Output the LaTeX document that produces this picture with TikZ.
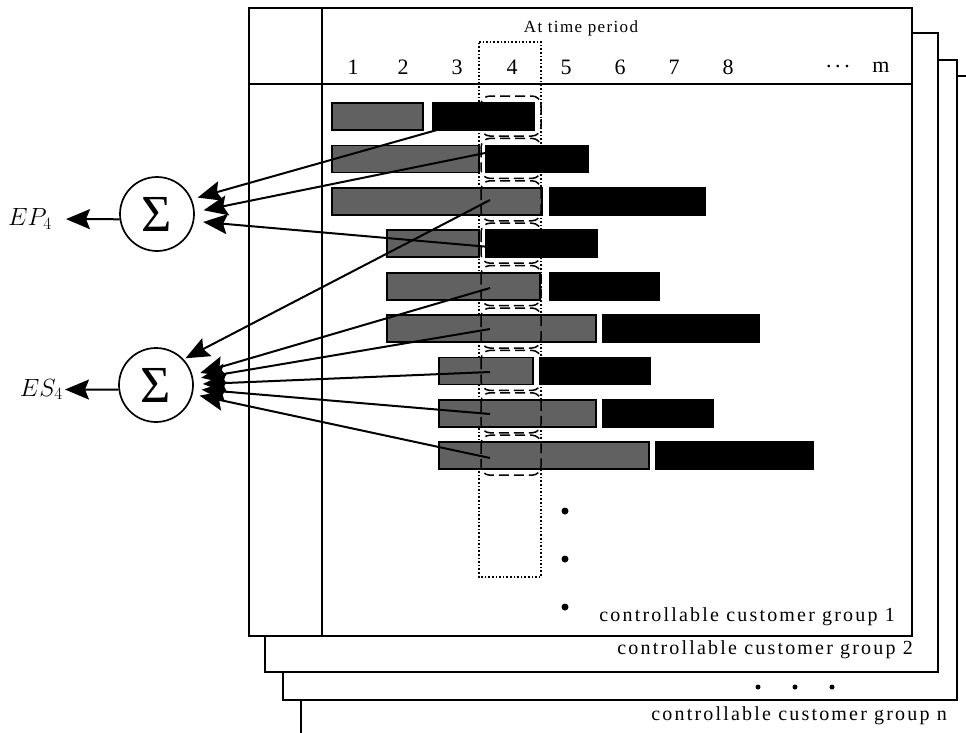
\documentclass[tikz,border=0pt]{standalone}
\usepackage{fontspec}
\setmainfont{Liberation Serif}
\usetikzlibrary{arrows.meta}
\begin{document}
\begin{tikzpicture}[x=1pt,y=-1pt,
  frame/.style={draw=black,line width=2.1pt,fill=white},
  rule/.style={draw=black,line width=2.1pt},
  sbar/.style={draw=black,line width=1.8pt,fill=black!62},
  pbar/.style={draw=black,line width=1.8pt,fill=black},
  slot/.style={draw=black,line width=1.5pt,dash pattern=on 10pt off 5pt,rounded corners=9pt},
  col/.style={draw=black,line width=1.6pt,dotted},
  arr/.style={draw=black,line width=2pt,-{Stealth[length=24pt,width=20pt,inset=4pt]}},
  sumnode/.style={circle,draw=black,line width=1.7pt,minimum size=74pt,inner sep=0pt,
    font=\fontsize{52}{52}\selectfont},
  num/.style={inner sep=0pt,font=\fontsize{22}{24}\selectfont},
  head/.style={inner sep=0pt,font=\fontsize{17}{20}\selectfont\addfontfeature{LetterSpace=8}},
  lbl/.style={inner sep=0pt,anchor=east,font=\fontsize{20}{22}\selectfont\addfontfeature{LetterSpace=11}},
  sumlbl/.style={inner sep=0pt,anchor=east,font=\fontsize{24}{26}\selectfont},
  dot/.style={fill=black}
]
\clip (0,0) rectangle (966,732);

% stacked customer-group sheets, back to front
\draw[frame] (301,76) rectangle (1000,760);
\draw[frame] (283,60) rectangle (957,700);
\draw[frame] (265,33) rectangle (938,672);
\draw[frame] (249,8) rectangle (912,636);
\draw[rule] (322,8) -- (322,636);
\draw[rule] (249,84) -- (912,84);

% header
\node[head] (ttl) at (581,28) {At time period};
\foreach \x/\t [count=\i] in {353/1,403/2,457/3,512/4,566/5,620/6,674/7,728/8,838/{.\,.\,.},881/m}
  \node[num] (t\i) at (\x,67) {\t};

% highlighted period column
\draw[col] (479,42) -- (541,42) -- (541,577) -- (479,577) -- cycle;

% schedules: shed periods (grey) followed by payback periods (black)
\foreach \i/\ga/\gb/\ba/\bb in {1/332/423/433/534, 2/332/479/486/588, 3/332/542/550/705,
    4/387/479/486/597, 5/387/540/550/659, 6/387/596/603/759,
    7/439/533/540/650, 8/439/596/603/713, 9/439/649/656/813}{
  \pgfmathsetmacro\yt{103+(\i-1)*42.4}
  \draw[sbar] (\ga,\yt) rectangle (\gb,\yt+27);
  \draw[pbar] (\ba,\yt) rectangle (\bb,\yt+27);
  \draw[slot] (481,\yt-7) rectangle (541,\yt+33);
}

% continuation marks
\fill[dot] (565,511) circle (3.5pt);
\fill[dot] (565,559) circle (3.5pt);
\fill[dot] (565,607) circle (3.5pt);
\fill[dot] (758,687) circle (2.5pt);
\fill[dot] (795,687) circle (2.5pt);
\fill[dot] (832,687) circle (2.5pt);

% group labels
\node[lbl] (g1) at (895,617) {controllable customer group 1};
\node[lbl] (g2) at (913,650) {controllable customer group 2};
\node[lbl] (gn) at (947,716) {controllable customer group n};

% summation nodes
\node[sumnode] (sigP) at (157,214) {Σ};
\node[sumnode] (sigS) at (156,385) {Σ};
\node[sumlbl] (ep) at (52,219) {$EP_4$};
\node[sumlbl] (es) at (63,389.5) {$ES_4$};
\draw[arr,shorten >=14pt] (sigP.188) -- (ep.east);
\draw[arr,shorten >=2pt] (sigS.187) -- (es.east);

% period-4 cells feeding the sums
\coordinate (p1) at (490,115);
\coordinate (p2) at (490,152);
\coordinate (p3) at (490,247);
\coordinate (s1) at (490,200);
\coordinate (s2) at (490,288);
\coordinate (s3) at (490,329);
\coordinate (s4) at (490,372);
\coordinate (s5) at (490,414);
\coordinate (s6) at (490,458);

\draw[arr,shorten >=6pt] (p1) -- (sigP.23);
\draw[arr,shorten >=9pt] (p2) -- (sigP.3);
\draw[arr,shorten >=9pt] (p3) -- (sigP.-11);
\draw[arr,shorten >=2pt] (s1) -- (sigS.43);
\draw[arr,shorten >=8pt] (s2) -- (sigS.15);
\draw[arr,shorten >=8pt] (s3) -- (sigS.9);
\draw[arr,shorten >=9pt] (s4) -- (sigS.1);
\draw[arr,shorten >=8pt] (s5) -- (sigS.-6);
\draw[arr,shorten >=7pt] (s6) -- (sigS.-14);
\end{tikzpicture}
\end{document}
